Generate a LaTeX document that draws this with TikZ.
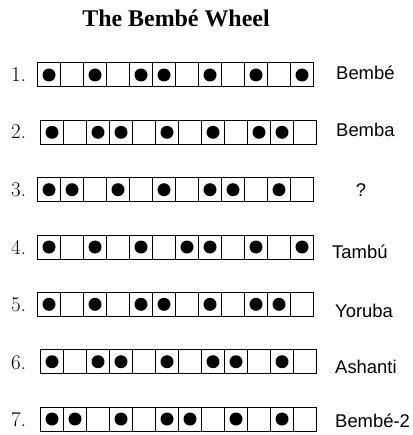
\documentclass[tikz,border=0pt]{standalone}
\usepackage{fontspec}
\newfontfamily\titlefont{Liberation Serif}
\newfontfamily\namefont{Liberation Sans}

\begin{document}
\begin{tikzpicture}[x=1bp,y=-1bp,
  cell0/.style={draw,line width=1bp,minimum width=23bp,minimum height=24bp,inner sep=0pt,outer sep=0pt},
  cell1/.style={cell0,path picture={\fill (path picture bounding box.center) circle (6.5bp);}},
  num/.style={anchor=base west,inner sep=0pt,font=\fontsize{21}{24}\selectfont},
  rhythm/.style={anchor=base west,inner sep=0pt,font=\namefont\fontsize{18.5}{21}\selectfont}]
  \useasboundingbox (0,0) rectangle (412,435);
  \node[anchor=base,inner sep=0pt,font=\titlefont\bfseries\fontsize{24}{28}\selectfont] (title) at (176,27) {The Bembé Wheel};
  % row numbers
  \node[num] (n1) at (11,82)  {1.};
  \node[num] (n2) at (11,139) {2.};
  \node[num] (n3) at (11,197) {3.};
  \node[num] (n4) at (11,254) {4.};
  \node[num] (n5) at (11,311) {5.};
  \node[num] (n6) at (11,369) {6.};
  \node[num] (n7) at (11,426) {7.};
  % the seven timelines
  \foreach \b [count=\i] in {1,0,1,0,1,1,0,1,0,1,0,1}
    \node[cell\b] (r1c\i) at ({37.5+(\i-0.5)*23},75) {};
  \foreach \b [count=\i] in {1,0,1,1,0,1,0,1,0,1,1,0}
    \node[cell\b] (r2c\i) at ({40.5+(\i-0.5)*23},132.3) {};
  \foreach \b [count=\i] in {1,1,0,1,0,1,0,1,1,0,1,0}
    \node[cell\b] (r3c\i) at ({37.5+(\i-0.5)*23},189.7) {};
  \foreach \b [count=\i] in {1,0,1,0,1,0,1,1,0,1,0,1}
    \node[cell\b] (r4c\i) at ({37.5+(\i-0.5)*23},247) {};
  \foreach \b [count=\i] in {1,0,1,0,1,1,0,1,0,1,1,0}
    \node[cell\b] (r5c\i) at ({37.5+(\i-0.5)*23},304.3) {};
  \foreach \b [count=\i] in {1,0,1,1,0,1,0,1,1,0,1,0}
    \node[cell\b] (r6c\i) at ({40.5+(\i-0.5)*23},361.7) {};
  \foreach \b [count=\i] in {1,1,0,1,0,1,1,0,1,0,1,0}
    \node[cell\b] (r7c\i) at ({40.5+(\i-0.5)*23},419) {};
  % names
  \node[rhythm] (l1) at (336,80)  {Bembé};
  \node[rhythm] (l2) at (336,137) {Bemba};
  \node[rhythm,anchor=base] (l3) at (361,197) {?};
  \node[rhythm] (l4) at (332,258) {Tambú};
  \node[rhythm] (l5) at (335,317) {Yoruba};
  \node[rhythm] (l6) at (335,373) {Ashanti};
  \node[rhythm] (l7) at (335,427) {Bembé-2};
\end{tikzpicture}
\end{document}
